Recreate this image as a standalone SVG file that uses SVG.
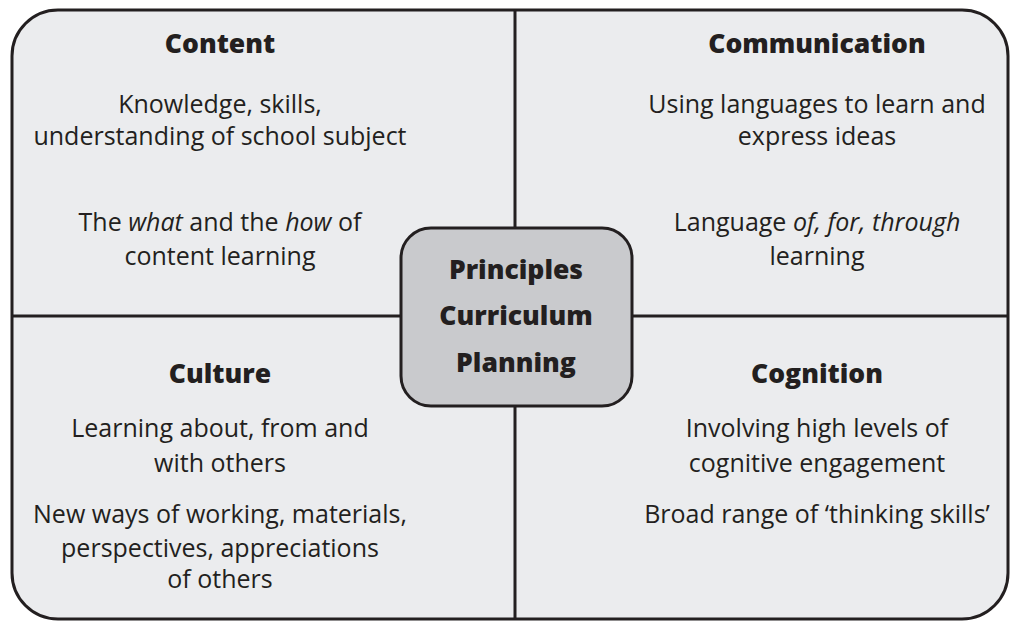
<svg xmlns="http://www.w3.org/2000/svg" width="1011" height="621" viewBox="0 0 1011 621">
<style>
.frame{fill:#ebecee;stroke:#231f20;stroke-width:3}
.div{stroke:#231f20;stroke-width:3;fill:none}
.center{fill:#c9cacd;stroke:#231f20;stroke-width:3}
text{font-family:"Open Sans","Noto Sans","Liberation Sans",sans-serif;fill:#231f20;text-anchor:middle}
.h{font-weight:800;font-size:26.5px}
.b{font-size:25px}
.c{font-weight:800;font-size:26.5px}
</style>
<rect width="1011" height="621" fill="#ffffff"/>
<rect class="frame" x="12" y="10" width="996" height="609" rx="46" ry="46"/>
<g id="connectors">
<line class="div" x1="515" y1="10" x2="515" y2="619"/>
<line class="div" x1="12" y1="316" x2="1008" y2="316"/>
</g>
<g id="content">
<text class="h" x="220" y="53">Content</text>
<text class="b" x="220" y="113">Knowledge, skills,</text>
<text class="b" x="220" y="145">understanding of school subject</text>
<text class="b" x="220" y="231">The <tspan font-style="italic">what</tspan> and the <tspan font-style="italic">how</tspan> of</text>
<text class="b" x="220" y="265">content learning</text>
</g>
<g id="communication">
<text class="h" x="817" y="53">Communication</text>
<text class="b" x="817" y="113">Using languages to learn and</text>
<text class="b" x="817" y="145">express ideas</text>
<text class="b" x="817" y="231">Language <tspan font-style="italic">of, for, through</tspan></text>
<text class="b" x="817" y="265">learning</text>
</g>
<g id="culture">
<text class="h" x="220" y="383">Culture</text>
<text class="b" x="220" y="437">Learning about, from and</text>
<text class="b" x="220" y="472">with others</text>
<text class="b" x="220" y="523">New ways of working, materials,</text>
<text class="b" x="220" y="557">perspectives, appreciations</text>
<text class="b" x="220" y="588">of others</text>
</g>
<g id="cognition">
<text class="h" x="817" y="383">Cognition</text>
<text class="b" x="817" y="437">Involving high levels of</text>
<text class="b" x="817" y="472">cognitive engagement</text>
<text class="b" x="817" y="523">Broad range of ‘thinking skills’</text>
</g>
<g id="principles">
<rect class="center" x="401" y="228" width="231" height="178" rx="30" ry="30"/>
<text class="c" x="516" y="279">Principles</text>
<text class="c" x="516" y="325">Curriculum</text>
<text class="c" x="516" y="372">Planning</text>
</g>
</svg>
